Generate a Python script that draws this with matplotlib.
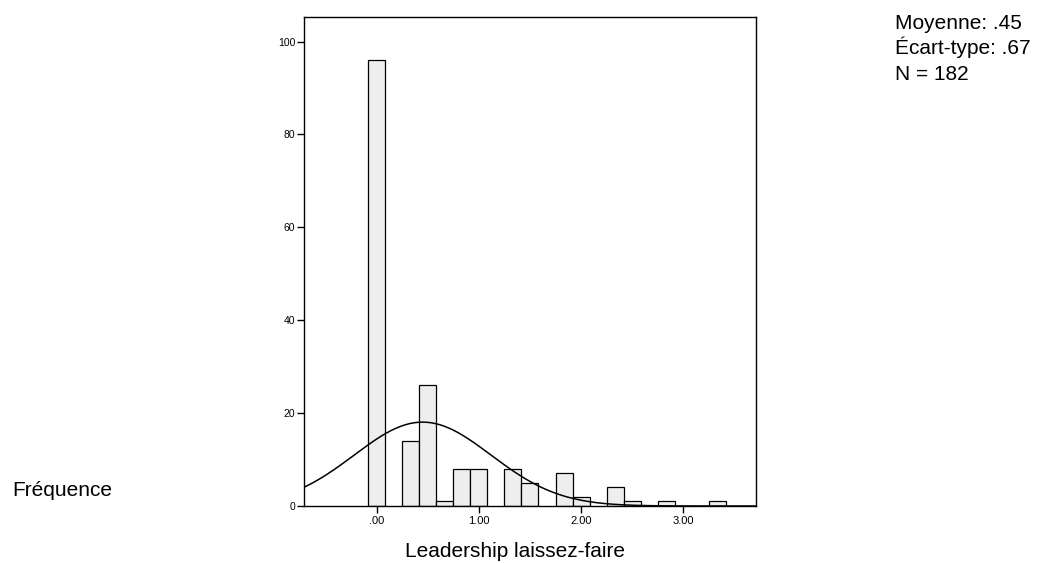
import numpy as np
import matplotlib.pyplot as plt

plt.rcParams['font.family'] = ['Liberation Sans', 'DejaVu Sans']

# bin centres (width 1/6) and counts
bin_centres = [0.0, 2/6, 3/6, 4/6, 5/6, 1.0, 8/6, 9/6, 11/6, 2.0, 14/6, 15/6, 17/6, 20/6]
counts = [96, 14, 26, 1, 8, 8, 8, 5, 7, 2, 4, 1, 1, 1]
bin_width = 1/6

mean = 0.45
sd = 0.67
n = 182

xticks = [0, 1, 2, 3]
xtick_labels = ['.00', '1.00', '2.00', '3.00']
yticks = [0, 20, 40, 60, 80, 100]
stats_lines = ['Moyenne: .45', 'Écart-type: .67', 'N = 182']

W, H = 1037, 563
fig = plt.figure(figsize=(W / 100, H / 100), dpi=100)
ax = fig.add_axes([303.5 / W, 1 - 506 / H, 452 / W, 489 / H])

ax.bar(bin_centres, counts, width=bin_width, color='#eeeeee',
       edgecolor='black', linewidth=0.9, zorder=2)

xs = np.linspace(-0.715, 3.706, 400)
pdf = np.exp(-0.5 * ((xs - mean) / sd) ** 2) / (sd * np.sqrt(2 * np.pi))
ax.plot(xs, n * bin_width * pdf, color='black', linewidth=1.1, zorder=3)

ax.set_xlim(-0.715, 3.706)
ax.set_ylim(0, 105.3)
ax.set_xticks(xticks)
ax.set_xticklabels(xtick_labels, fontsize=8)
ax.set_yticks(yticks)
ax.tick_params(axis='y', labelsize=7.5, length=5, width=1, pad=1)
ax.tick_params(axis='x', length=5, width=1, pad=2)
for s in ax.spines.values():
    s.set_linewidth(1)

fig.text(405 / W, 1 - 557 / H, 'Leadership laissez-faire', fontsize=15,
         ha='left', va='baseline')
fig.text(12 / W, 1 - 496 / H, 'Fréquence', fontsize=15,
         ha='left', va='baseline')
for i, line in enumerate(stats_lines):
    fig.text(895 / W, 1 - (29 + 25.5 * i) / H, line, fontsize=15,
             ha='left', va='baseline')

fig.savefig('out.png', dpi=100)
